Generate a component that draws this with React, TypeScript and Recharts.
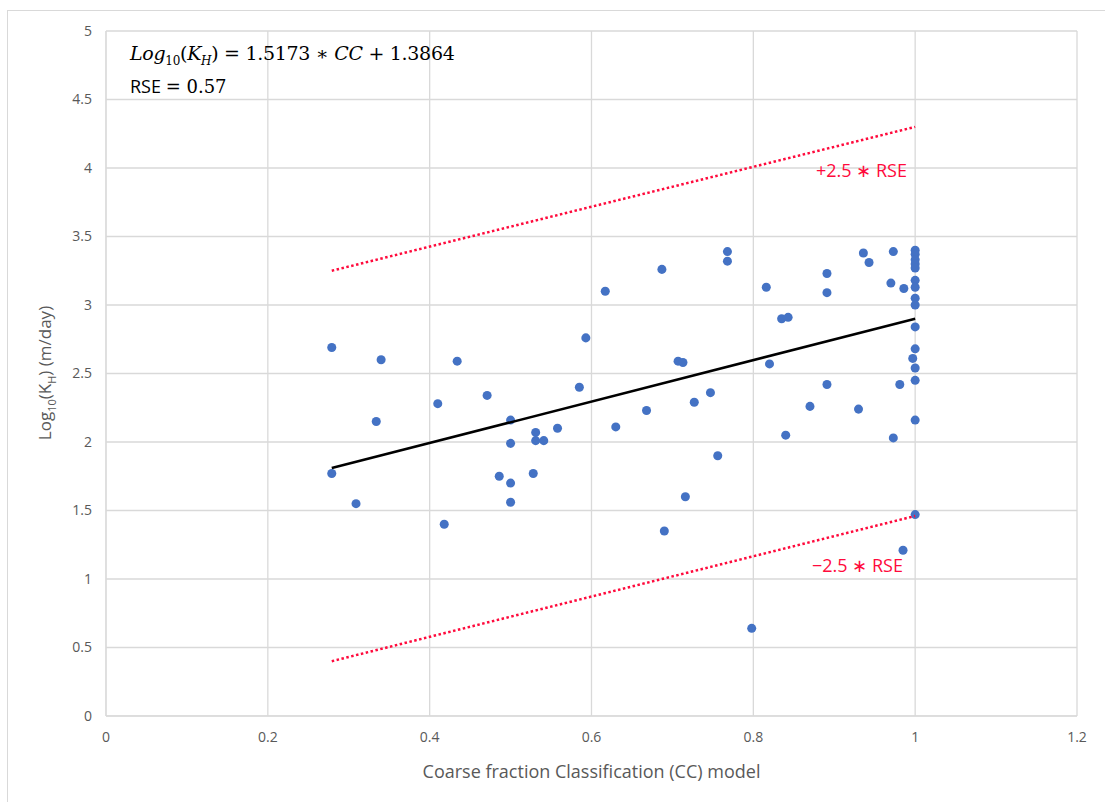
import { ScatterChart, Scatter, XAxis, YAxis, CartesianGrid } from 'recharts'

// measured points: coarse fraction (CC) vs log10(KH)
const ccValues = [
  0.279, 0.279, 0.309, 0.34, 0.334, 0.41, 0.418, 0.434, 0.471, 0.486,
  0.5, 0.5, 0.5, 0.5, 0.528, 0.531, 0.531, 0.541, 0.558, 0.585,
  0.593, 0.617, 0.63, 0.668, 0.687, 0.69, 0.707, 0.713, 0.716, 0.727,
  0.747, 0.756, 0.768, 0.768, 0.816, 0.82, 0.835, 0.843, 0.84, 0.87,
  0.891, 0.891, 0.891, 0.93, 0.936, 0.943, 0.973, 0.97, 0.973, 0.981,
  0.986, 0.985, 0.798, 0.997,
  1, 1, 1, 1, 1, 1, 1, 1, 1, 1, 1, 1, 1, 1, 1,
]
const logKH = [
  1.77, 2.69, 1.55, 2.60, 2.15, 2.28, 1.40, 2.59, 2.34, 1.75,
  2.16, 1.99, 1.70, 1.56, 1.77, 2.07, 2.01, 2.01, 2.10, 2.40,
  2.76, 3.10, 2.11, 2.23, 3.26, 1.35, 2.59, 2.58, 1.60, 2.29,
  2.36, 1.90, 3.39, 3.32, 3.13, 2.57, 2.90, 2.91, 2.05, 2.26,
  3.23, 3.09, 2.42, 2.24, 3.38, 3.31, 3.39, 3.16, 2.03, 2.42,
  3.12, 1.21, 0.64, 2.61,
  3.40, 3.37, 3.33, 3.30, 3.27, 3.18, 3.13, 3.05, 3.00, 2.84, 2.68, 2.54, 2.45, 2.16, 1.47,
]

// fitted line and +/- 2.5 RSE bands, end points
const bandX = [0.279, 1]
const fitY = [1.81, 2.9]
const upperY = [3.25, 4.3]
const lowerY = [0.4, 1.46]

const xTicks = [0, 0.2, 0.4, 0.6, 0.8, 1, 1.2]
const yTicks = [0, 0.5, 1, 1.5, 2, 2.5, 3, 3.5, 4, 4.5, 5]

const points = ccValues.map((x, i) => ({ x, y: logKH[i] }))
const toLine = (ys: number[]) => bandX.map((x, i) => ({ x, y: ys[i] }))

const tickStyle = { fill: '#595959', fontSize: 14, fontFamily: 'Open Sans, sans-serif' }
const RED = '#FF0A3C'
const noDot = () => <g />

export default function App() {
  return (
    <div style={{ position: 'fixed', left: 0, top: 0, width: 1105, height: 802, background: '#fff' }}>
      <div
        style={{
          position: 'absolute', left: 7, top: 10, width: 1098, height: 792,
          borderLeft: '1px solid #d9d9d9', borderTop: '1px solid #d9d9d9',
        }}
      />
      <ScatterChart width={1105} height={802} margin={{ top: 31, right: 28, left: 50, bottom: 36 }}>
        <CartesianGrid stroke="#d9d9d9" strokeWidth={1.3} />
        <XAxis
          type="number"
          dataKey="x"
          domain={[0, 1.2]}
          ticks={xTicks}
          tick={tickStyle}
          tickLine={false}
          axisLine={{ stroke: '#d9d9d9' }}
          height={50}
          tickMargin={10}
          label={{
            value: 'Coarse fraction Classification (CC) model',
            position: 'insideBottom',
            offset: -12,
            fill: '#595959',
            fontSize: 18,
            fontFamily: 'Open Sans, sans-serif',
          }}
        />
        <YAxis
          type="number"
          dataKey="y"
          domain={[0, 5]}
          ticks={yTicks}
          tick={tickStyle}
          tickLine={false}
          axisLine={{ stroke: '#d9d9d9' }}
          width={56}
          tickMargin={8}
        />
        <Scatter data={points} fill="#4472C4" isAnimationActive={false} shape="circle" r={5.5} />
        <Scatter
          data={toLine(fitY)}
          line={{ stroke: '#000', strokeWidth: 2.5 }}
          shape={noDot}
          isAnimationActive={false}
        />
        <Scatter
          data={toLine(upperY)}
          line={{ stroke: RED, strokeWidth: 2.5, strokeDasharray: '2.5 2.5' }}
          shape={noDot}
          isAnimationActive={false}
        />
        <Scatter
          data={toLine(lowerY)}
          line={{ stroke: RED, strokeWidth: 2.5, strokeDasharray: '2.5 2.5' }}
          shape={noDot}
          isAnimationActive={false}
        />
      </ScatterChart>

      <div
        style={{
          position: 'absolute', left: 130, top: 42, fontSize: 19,
          fontFamily: '"DejaVu Serif", serif', color: '#000', whiteSpace: 'nowrap',
          letterSpacing: -0.3,
        }}
      >
        <i>Log</i><sub style={{ fontSize: 12 }}>10</sub>(<i>K</i><sub style={{ fontSize: 12 }}><i>H</i></sub>) = 1.5173 ∗ <i>CC</i> + 1.3864
      </div>
      <div
        style={{
          position: 'absolute', left: 130, top: 74, fontSize: 18,
          fontFamily: 'Open Sans, sans-serif', color: '#000', whiteSpace: 'nowrap',
        }}
      >
        RSE <span style={{ fontFamily: '"DejaVu Serif", serif' }}>= 0.57</span>
      </div>

      <div
        style={{
          position: 'absolute', left: 816, top: 158, fontSize: 18,
          fontFamily: 'Open Sans, sans-serif', color: RED, whiteSpace: 'nowrap',
        }}
      >
        +2.5 ∗ RSE
      </div>
      <div
        style={{
          position: 'absolute', left: 812, top: 553, fontSize: 18,
          fontFamily: 'Open Sans, sans-serif', color: RED, whiteSpace: 'nowrap',
        }}
      >
        −2.5 ∗ RSE
      </div>

      <div
        style={{
          position: 'absolute', left: 46, top: 373, transform: 'translate(-50%, -50%) rotate(-90deg)',
          fontSize: 17, fontFamily: 'Open Sans, sans-serif', color: '#595959', whiteSpace: 'nowrap',
        }}
      >
        Log<sub style={{ fontSize: 11 }}>10</sub>(K<sub style={{ fontSize: 11 }}>H</sub>) (m/day)
      </div>
    </div>
  )
}
